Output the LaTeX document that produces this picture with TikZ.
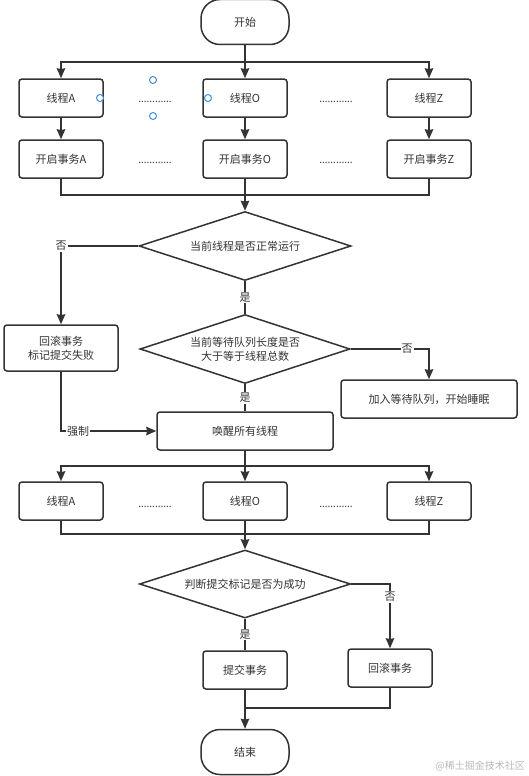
\documentclass[tikz,border=0pt]{standalone}
\usepackage{fontspec}
\setmainfont{Noto Sans CJK SC}
\usetikzlibrary{arrows.meta,shapes.geometric}
\definecolor{ink}{HTML}{333333}
\definecolor{handle}{HTML}{3F8FE0}
\tikzset{
  proc/.style={draw=ink, rounded corners=3pt, line width=1.5pt, minimum width=84pt, minimum height=38pt, inner sep=0pt, text=ink, font=\fontsize{11}{14}\selectfont, align=center},
  term/.style={proc, rounded corners=19pt, minimum width=88pt, minimum height=45pt},
  decide/.style={draw=ink, diamond, line width=1.5pt, inner sep=0pt, aspect=3, minimum width=212pt, minimum height=69pt, text=ink, font=\fontsize{11}{14}\selectfont, align=center},
  line/.style={draw=ink, line width=1.5pt},
  arr/.style={line, -{Stealth[length=10pt,width=8.5pt,inset=0.8pt]}},
  lbl/.style={fill=white, text=ink, inner sep=1pt, font=\fontsize{11}{14}\selectfont},
  dots/.style={text=ink, font=\fontsize{10}{10}\selectfont, inner sep=0pt}
}
\begin{document}
\begin{tikzpicture}[x=1pt,y=-1pt]
  \useasboundingbox (0,0) rectangle (529,776);
  % start and the three threads
  \node[term] (start) at (245,22) {开始};
  \node[proc] (tA) at (61,98) {线程A};
  \node[proc] (tO) at (245,98) {线程O};
  \node[proc] (tZ) at (429,98) {线程Z};
  \node[proc] (sA) at (61,159) {开启事务A};
  \node[proc] (sO) at (245,159) {开启事务O};
  \node[proc] (sZ) at (429,159) {开启事务Z};
  \node[dots] (dotsA) at (155,102) {............};
  \node[dots] (dotsB) at (336,102) {............};
  \node[dots] (dotsC) at (155,163) {............};
  \node[dots] (dotsD) at (336,163) {............};
  % selection handles
  \draw[handle, line width=1pt, fill=white] (153,80) circle (3.5) (100,98) circle (3.5) (208,98) circle (3.5) (153,116) circle (3.5);
  % checks
  \node[decide] (run) at (245,246) {当前线程是否正常运行};
  \node[proc, minimum width=114pt, minimum height=46pt] (fail) at (61,348) {回滚事务\\标记提交失败};
  \node[decide, minimum width=210pt] (queue) at (245,349) {当前等待队列长度是否\\大于等于线程总数};
  \node[proc, minimum width=176pt] (sleep) at (429,399) {加入等待队列，开始睡眠};
  \node[proc, minimum width=176pt] (wake) at (245,431) {唤醒所有线程};
  % threads again
  \node[proc] (uA) at (61,501) {线程A};
  \node[proc] (uO) at (245,501) {线程O};
  \node[proc] (uZ) at (429,501) {线程Z};
  \node[dots] (dotsE) at (155,507) {............};
  \node[dots] (dotsF) at (336,507) {............};
  \node[decide, minimum width=211pt, minimum height=68pt] (ok) at (245,584) {判断提交标记是否为成功};
  \node[proc] (commit) at (245,670) {提交事务};
  \node[proc] (back) at (390,668) {回滚事务};
  \node[term] (stop) at (245,752) {结束};
  \node[text=gray!55, font=\fontsize{10}{12}\selectfont, anchor=east, inner sep=0pt] (mark) at (525,766) {@稀土掘金技术社区};
  % connectors
  \coordinate (forkA) at (245,62);
  \coordinate (joinA) at (245,195);
  \coordinate (forkB) at (245,466);
  \coordinate (joinB) at (245,534);
  \coordinate (joinC) at (245,708);
  \draw[arr] (start) -- (tO);
  \draw[arr] (forkA) -| (tA);
  \draw[arr] (forkA) -| (tZ);
  \draw[arr] (tA) -- (sA);
  \draw[arr] (tO) -- (sO);
  \draw[arr] (tZ) -- (sZ);
  \draw[line] (sA) |- (joinA);
  \draw[line] (sZ) |- (joinA);
  \draw[arr] (sO) -- (run);
  \draw[arr] (run.west) -| node[lbl, pos=0.5] {否} (fail.north);
  \draw[line] (run.south) -- node[lbl] {是} (queue.north);
  \draw[arr] (queue.east) -| node[lbl, pos=0.36] {否} (sleep.north);
  \draw[line] (queue.south) -- node[lbl] {是} (wake.north);
  \draw[arr] (fail.south) |- node[lbl, pos=0.59] {强制} (wake.west);
  \draw[line] (wake.south) -- (forkB);
  \draw[arr] (forkB) -- (uO);
  \draw[arr] (forkB) -| (uA);
  \draw[arr] (forkB) -| (uZ);
  \draw[line] (uA) |- (joinB);
  \draw[line] (uZ) |- (joinB);
  \draw[arr] (uO) -- (ok);
  \draw[arr] (ok.east) -| node[lbl, pos=0.6] {否} (back.north);
  \draw[line] (ok.south) -- node[lbl] {是} (commit.north);
  \draw[arr] (commit) -- (stop);
  \draw[line] (back) |- (joinC);
\end{tikzpicture}
\end{document}
